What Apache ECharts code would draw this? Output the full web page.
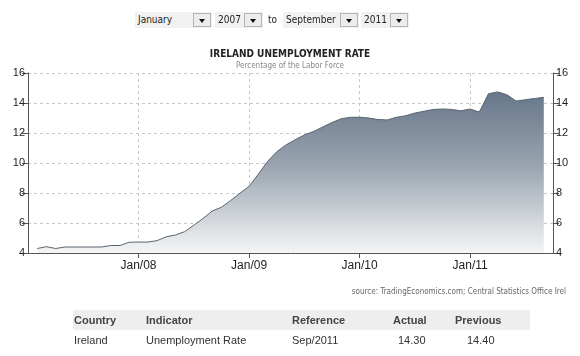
<!DOCTYPE html>
<html>
<head>
<meta charset="utf-8">
<script src="https://cdn.jsdelivr.net/npm/echarts@6/dist/echarts.min.js"></script>
<style>
  html,body{margin:0;padding:0;background:#fff;}
  #wrap{position:relative;width:580px;height:356px;overflow:hidden;font-family:"Liberation Sans",Arial,sans-serif;}
  #chart{position:absolute;left:0;top:0;width:580px;height:356px;}
  .sel{position:absolute;top:12px;height:16px;background:#f1f1f1;font-size:10px;color:#222;line-height:16px;font-family:"DejaVu Sans Condensed","DejaVu Sans",sans-serif;}
  .sel span{position:absolute;left:3px;top:0;}
  .btn{position:absolute;right:1px;top:1px;width:16px;height:12px;border:1px solid #b5b5b5;background:#ececec;}
  .btn:after{content:"";position:absolute;left:5px;top:5px;border-left:3.5px solid transparent;border-right:3.5px solid transparent;border-top:4px solid #111;}
  .txt{position:absolute;white-space:nowrap;}
  #hdr{position:absolute;left:73px;top:310px;width:457px;height:20px;background:#eeeeee;}
</style>
</head>
<body>
<div id="wrap">
  <div id="chart"></div>
  <div class="sel" style="left:135px;width:77px;"><span>January</span><div class="btn"></div></div>
  <div class="sel" style="left:215px;width:48px;"><span>2007</span><div class="btn"></div></div>
  <div class="txt" style="left:268px;top:12px;line-height:16px;font-size:10px;color:#222;font-family:'DejaVu Sans Condensed','DejaVu Sans',sans-serif;">to</div>
  <div class="sel" style="left:283px;width:76px;"><span>September</span><div class="btn"></div></div>
  <div class="sel" style="left:361px;width:48px;"><span>2011</span><div class="btn"></div></div>
  <div class="txt" style="right:14px;top:287px;font-size:8px;color:#666;font-family:'DejaVu Sans Condensed','DejaVu Sans',sans-serif;">source: TradingEconomics.com; Central Statistics Office Irel</div>
  <div id="hdr"></div>
  <div id="table"></div>
</div>
<script>
// ---- data ----
const months = [
  '2007-02','2007-03','2007-04','2007-05','2007-06','2007-07','2007-08','2007-09','2007-10','2007-11','2007-12',
  '2008-01','2008-02','2008-03','2008-04','2008-05','2008-06','2008-07','2008-08','2008-09','2008-10','2008-11','2008-12',
  '2009-01','2009-02','2009-03','2009-04','2009-05','2009-06','2009-07','2009-08','2009-09','2009-10','2009-11','2009-12',
  '2010-01','2010-02','2010-03','2010-04','2010-05','2010-06','2010-07','2010-08','2010-09','2010-10','2010-11','2010-12',
  '2011-01','2011-02','2011-03','2011-04','2011-05','2011-06','2011-07','2011-08','2011-09'
];
const rates = [
  4.3,4.42,4.3,4.4,4.4,4.4,4.4,4.4,4.5,4.5,4.72,
  4.73,4.73,4.82,5.08,5.2,5.42,5.85,6.3,6.8,7.05,7.5,7.98,
  8.45,9.25,10.1,10.75,11.2,11.55,11.87,12.1,12.4,12.7,12.95,13.05,
  13.05,13.0,12.9,12.87,13.05,13.15,13.33,13.45,13.57,13.6,13.57,13.48,
  13.6,13.4,14.62,14.74,14.55,14.13,14.22,14.3,14.38
];
const xTickLabels = ['Jan/08','Jan/09','Jan/10','Jan/11'];
const tableHeader = ['Country','Indicator','Reference','Actual','Previous'];
const tableRow = ['Ireland','Unemployment Rate','Sep/2011','14.30','14.40'];

// ---- table (HTML) ----
(function(){
  const t = document.getElementById('table');
  const xs = [74,146,292,393,455];
  const xr = [74,146,292,398,467];
  tableHeader.forEach((h,i)=>{
    const d=document.createElement('div');d.className='txt';
    d.style.cssText=`left:${xs[i]}px;top:314px;font-size:11px;font-weight:bold;color:#444;`;
    d.textContent=h;t.appendChild(d);
  });
  tableRow.forEach((h,i)=>{
    const d=document.createElement('div');d.className='txt';
    d.style.cssText=`left:${xr[i]}px;top:334px;font-size:11px;color:#333;`;
    d.textContent=h;t.appendChild(d);
  });
})();

// ---- chart ----
function monthIndex(s){const [y,m]=s.split('-').map(Number);return (y-2007)*12+(m-1);}
const seriesData = months.map((m,i)=>[monthIndex(m), rates[i]]);

const chart = echarts.init(document.getElementById('chart'), null, {renderer:'canvas'});
const yAxisBase = {
  type:'value', min:4, max:16, interval:2,
  axisLine:{show:true,lineStyle:{color:'#555',width:1}},
  axisTick:{show:true,length:6,lineStyle:{color:'#555'}},
  axisLabel:{color:'#222',fontSize:11,margin:3,fontFamily:'Liberation Sans'}
};
chart.setOption({
  animation:false,
  title:{
    text:'IRELAND UNEMPLOYMENT RATE',
    subtext:'Percentage of the Labor Force',
    left:'center', top:44, itemGap:3,
    textStyle:{fontSize:10,fontWeight:'bold',color:'#222',fontFamily:'DejaVu Sans Condensed'},
    subtextStyle:{fontSize:8,color:'#888',fontFamily:'DejaVu Sans Condensed'}
  },
  grid:{left:28,right:27,top:73,bottom:103,containLabel:false},
  xAxis:{
    type:'value', min:0, max:57, interval:12,
    axisLine:{show:true,onZero:false,lineStyle:{color:'#555',width:1}},
    axisTick:{show:true,length:5,lineStyle:{color:'#555'}},
    axisLabel:{
      color:'#222',fontSize:12,margin:7,fontFamily:'Liberation Sans',
      showMinLabel:false, showMaxLabel:false,
      formatter:v=>{const k=v/12; return (v>0 && v%12===0 && k<=xTickLabels.length)? xTickLabels[k-1] : '';}
    },
    splitLine:{show:true,lineStyle:{color:'#c8c8c8',type:[3,3]}}
  },
  yAxis:[
    Object.assign({},yAxisBase,{position:'left',splitLine:{show:true,lineStyle:{color:'#c8c8c8',type:[3,3]}}}),
    Object.assign({},yAxisBase,{position:'right',splitLine:{show:false}})
  ],
  series:[{
    type:'line', data:seriesData, showSymbol:false, smooth:false,
    lineStyle:{color:'#5a646e',width:1},
    areaStyle:{
      opacity:1,
      color:new echarts.graphic.LinearGradient(0,0,0,1,[
        {offset:0,color:'#66768a'},
        {offset:0.45,color:'#98a3ae'},
        {offset:1,color:'#f5f5f6'}
      ])
    }
  }]
});
</script>
</body>
</html>
